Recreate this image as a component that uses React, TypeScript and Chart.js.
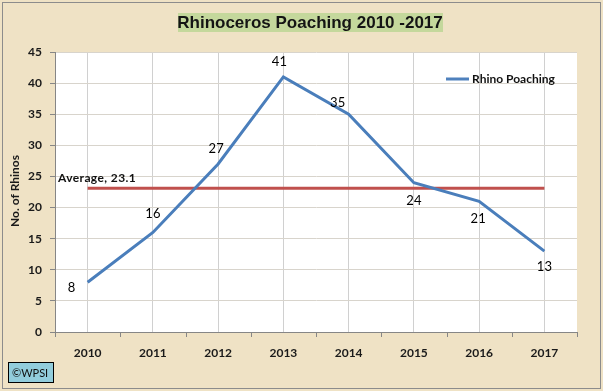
import React, { useEffect, useRef } from "react";
import { Chart, registerables } from "chart.js";

Chart.register(...registerables);

const years = ["2010", "2011", "2012", "2013", "2014", "2015", "2016", "2017"];
const poaching = [8, 16, 27, 41, 35, 24, 21, 13];
const averageValue = 23.1;
const averageLine = years.map(() => averageValue);
const seriesName = "Rhino Poaching";
const chartTitle = "Rhinoceros Poaching 2010 -2017";
const yTitle = "No. of Rhinos";

// label offsets (styling) relative to each point
const labelDx = [-16, 0, -2, -4, -11, 0, -1, 0];
const labelDy = [6, -19, -15, -15, -11, 18, 17, 16];

const decorPlugin = {
  id: "decor",
  beforeDraw(chart: any) {
    const { ctx, chartArea } = chart;
    ctx.save();
    ctx.fillStyle = "#efe2c5";
    ctx.fillRect(0, 0, chart.width, chart.height);
    ctx.strokeStyle = "#8c8c8c";
    ctx.lineWidth = 1;
    ctx.strokeRect(2.5, 2.5, chart.width - 5, chart.height - 5);
    ctx.fillStyle = "#ffffff";
    ctx.fillRect(chartArea.left, chartArea.top, chartArea.right - chartArea.left, chartArea.bottom - chartArea.top);
    ctx.restore();
  },
  afterDraw(chart: any) {
    const { ctx, chartArea, scales } = chart;
    ctx.save();
    // x-axis tick marks at category boundaries
    const xs = scales.x;
    ctx.strokeStyle = "#868686";
    ctx.lineWidth = 1;
    for (let i = 0; i <= years.length; i++) {
      const px = i < years.length ? xs.getPixelForValue(i) - (xs.getPixelForValue(1) - xs.getPixelForValue(0)) / 2 : chartArea.right;
      const x = Math.round(px) + 0.5;
      ctx.beginPath();
      ctx.moveTo(x, chartArea.bottom);
      ctx.lineTo(x, chartArea.bottom + 5);
      ctx.stroke();
    }
    // title box
    ctx.fillStyle = "#c4d89c";
    ctx.fillRect(178, 13, 265, 19);
    ctx.fillStyle = "#141414";
    ctx.font = "bold 17px 'Liberation Sans', Arial, sans-serif";
    ctx.textAlign = "center";
    ctx.textBaseline = "middle";
    ctx.fillText(chartTitle, 310, 23);
    // y title
    ctx.save();
    ctx.translate(15, 191);
    ctx.rotate(-Math.PI / 2);
    ctx.font = "bold 12px Lato, 'Open Sans', sans-serif";
    ctx.fillStyle = "#1a1a1a";
    ctx.fillText(yTitle, 0, 0);
    ctx.restore();
    // legend
    ctx.strokeStyle = "#4f81bd";
    ctx.lineWidth = 3;
    ctx.beginPath();
    ctx.moveTo(446, 79);
    ctx.lineTo(469, 79);
    ctx.stroke();
    ctx.fillStyle = "#111111";
    ctx.font = "bold 12px Lato, 'Open Sans', sans-serif";
    ctx.textAlign = "left";
    ctx.fillText(seriesName, 472, 79);
    // average label
    ctx.font = "bold 12px Lato, 'Open Sans', sans-serif";
    (ctx as any).letterSpacing = "0.4px";
    ctx.fillText("Average, " + averageValue.toFixed(1), 58, 178);
    (ctx as any).letterSpacing = "0px";
    // data labels
    const meta = chart.getDatasetMeta(0);
    ctx.font = "13px Lato, 'Open Sans', sans-serif";
    ctx.textAlign = "center";
    ctx.fillStyle = "#000000";
    meta.data.forEach((pt: any, i: number) => {
      ctx.fillText(String(poaching[i]), pt.x + labelDx[i], pt.y + labelDy[i]);
    });
    // WPSI box
    ctx.fillStyle = "#92cddc";
    ctx.fillRect(8.5, 362.5, 45, 20);
    ctx.strokeStyle = "#000000";
    ctx.lineWidth = 1;
    ctx.strokeRect(8.5, 362.5, 45, 20);
    ctx.fillStyle = "#111111";
    ctx.font = "11px Lato, 'Open Sans', sans-serif";
    ctx.textAlign = "left";
    ctx.fillText("\u00A9WPSI", 12, 373);
    ctx.restore();
  },
};

export default function App() {
  const canvasRef = useRef<HTMLCanvasElement | null>(null);
  useEffect(() => {
    if (!canvasRef.current) return;
    const chart = new Chart(canvasRef.current, {
      type: "line",
      data: {
        labels: years,
        datasets: [
          {
            label: seriesName,
            data: poaching,
            borderColor: "#4a7ebb",
            borderWidth: 3,
            pointRadius: 0,
            tension: 0,
          },
          {
            label: "Average",
            data: averageLine,
            borderColor: "#c0504d",
            borderWidth: 3,
            pointRadius: 0,
          },
        ],
      },
      options: {
        animation: false,
        responsive: false,
        layout: { padding: { left: 0, top: 52, right: 26, bottom: 0 } },
        plugins: { legend: { display: false }, title: { display: false }, tooltip: { enabled: false } },
        scales: {
          x: {
            type: "category",
            offset: true,
            grid: { offset: false, color: "#d0d0d0", drawTicks: false },
            border: { color: "#868686" },
            ticks: {
              padding: 14,
              color: "#1a1a1a",
              font: { family: "Lato, 'Open Sans', sans-serif", size: 12, weight: "bold" },
            },
            afterFit(scale: any) {
              scale.height = 59;
            },
          },
          y: {
            min: 0,
            max: 45,
            ticks: {
              stepSize: 5,
              padding: 8,
              color: "#1a1a1a",
              font: { family: "Lato, 'Open Sans', sans-serif", size: 12, weight: "bold" },
            },
            grid: { color: "#d8d4cc", tickLength: 5, tickColor: "#868686" },
            border: { color: "#868686" },
            afterFit(scale: any) {
              scale.width = 55;
            },
          },
        },
      },
      plugins: [decorPlugin],
    });
    return () => chart.destroy();
  }, []);
  return (
    <div style={{ position: "fixed", left: 0, top: 0, width: 603, height: 391 }}>
      <canvas ref={canvasRef} width={603} height={391} style={{ display: "block", width: 603, height: 391 }} />
    </div>
  );
}
